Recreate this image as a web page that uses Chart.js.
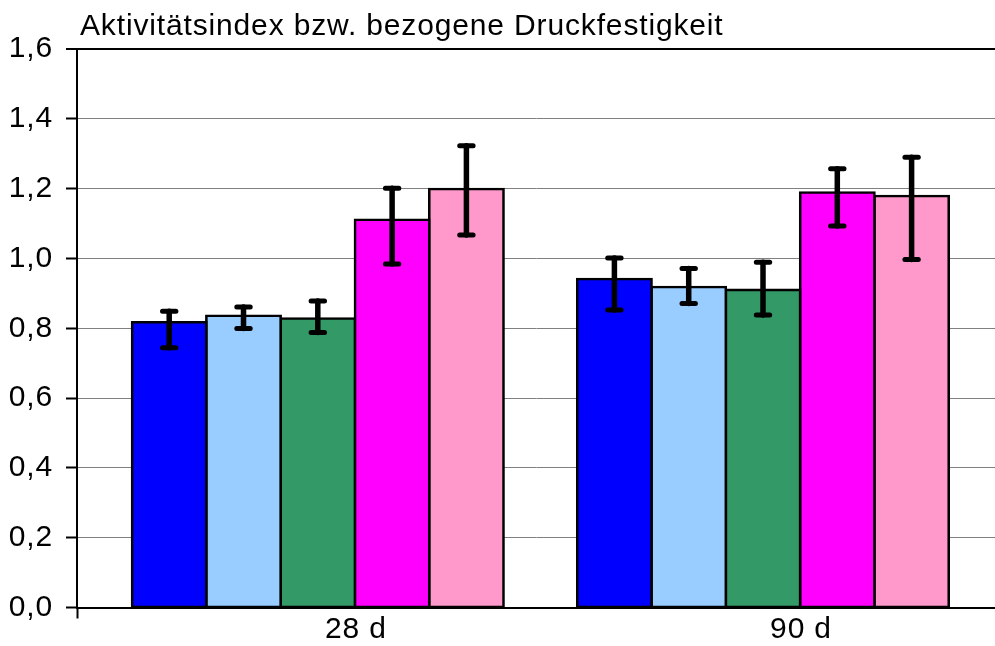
<!DOCTYPE html>
<html>
<head>
<meta charset="utf-8">
<script src="https://cdn.jsdelivr.net/npm/chart.js@4/dist/chart.umd.min.js"></script>
<style>
  html, body { margin: 0; padding: 0; background: #fff; overflow: hidden; }
  #wrap { width: 995px; height: 646px; position: relative; }
</style>
</head>
<body>
<div id="wrap"><canvas id="c" width="995" height="646"></canvas></div>
<script>
// ---- Data ----
const categories = ['28 d', '90 d'];
const yTickValues = [0, 0.2, 0.4, 0.6, 0.8, 1.0, 1.2, 1.4, 1.6];
const titleText = 'Aktivitätsindex bzw. bezogene Druckfestigkeit';

const series1 = [0.817, 0.941];
const series1High = [0.849, 1.001];
const series1Low = [0.744, 0.852];

const series2 = [0.836, 0.918];
const series2High = [0.861, 0.971];
const series2Low = [0.799, 0.871];

const series3 = [0.828, 0.910];
const series3High = [0.878, 0.989];
const series3Low = [0.788, 0.838];

const series4 = [1.111, 1.189];
const series4High = [1.201, 1.257];
const series4Low = [0.984, 1.093];

const series5 = [1.199, 1.179];
const series5High = [1.323, 1.290];
const series5Low = [1.067, 0.997];

// ---- Styles ----
const seriesColors = ['#0000FF', '#99CCFF', '#339966', '#FF00FF', '#FF99CC'];
const FONT = "'Liberation Sans', Arial, sans-serif";
const FONT_SIZE = 30;
const LETTER_SPACING = '0.85px';

const allSeries = [
  { v: series1, hi: series1High, lo: series1Low },
  { v: series2, hi: series2High, lo: series2Low },
  { v: series3, hi: series3High, lo: series3Low },
  { v: series4, hi: series4High, lo: series4Low },
  { v: series5, hi: series5High, lo: series5Low }
];

const datasets = allSeries.map((s, i) => ({
  label: 'Serie ' + (i + 1),
  data: s.v.map((val, k) => ({ x: k, y: val, hi: s.hi[k], lo: s.lo[k] })),
  backgroundColor: seriesColors[i],
  borderColor: '#000',
  borderWidth: 2.6,
  borderSkipped: false,
  inflateAmount: 1.3,
  barThickness: 74.3
}));

const spacing = {
  id: 'spacing',
  beforeDraw(chart) { chart.ctx.letterSpacing = LETTER_SPACING; }
};

const errorBars = {
  id: 'errorBars',
  afterDatasetsDraw(chart) {
    const ctx = chart.ctx;
    const y = chart.scales.y;
    ctx.save();
    ctx.strokeStyle = '#000';
    ctx.lineCap = 'round';
    chart.data.datasets.forEach((ds, di) => {
      const meta = chart.getDatasetMeta(di);
      meta.data.forEach((bar, k) => {
        const p = ds.data[k];
        const yh = y.getPixelForValue(p.hi);
        const yl = y.getPixelForValue(p.lo);
        ctx.lineWidth = 5.5;
        ctx.beginPath();
        ctx.moveTo(bar.x, yh); ctx.lineTo(bar.x, yl);
        ctx.stroke();
        ctx.lineWidth = 5;
        ctx.beginPath();
        ctx.moveTo(bar.x - 6.7, yh); ctx.lineTo(bar.x + 6.7, yh);
        ctx.moveTo(bar.x - 6.7, yl); ctx.lineTo(bar.x + 6.7, yl);
        ctx.stroke();
      });
    });
    ctx.restore();
  }
};

const titlePlugin = {
  id: 'titleText',
  afterDraw(chart) {
    const ctx = chart.ctx;
    ctx.save();
    ctx.letterSpacing = LETTER_SPACING;
    ctx.font = FONT_SIZE + 'px ' + FONT;
    ctx.fillStyle = '#000';
    ctx.textAlign = 'left';
    ctx.textBaseline = 'alphabetic';
    ctx.fillText(titleText, chart.chartArea.left + 3, 35);
    ctx.restore();
  }
};

Chart.defaults.font.family = FONT;
Chart.defaults.font.size = FONT_SIZE;
Chart.defaults.color = '#000';

new Chart(document.getElementById('c'), {
  type: 'bar',
  data: { datasets },
  plugins: [spacing, errorBars, titlePlugin],
  options: {
    responsive: false,
    animation: false,
    devicePixelRatio: 1,
    layout: { padding: { top: 49, left: 0, right: 0, bottom: 0 } },
    plugins: { legend: { display: false }, title: { display: false }, tooltip: { enabled: false } },
    scales: {
      x: {
        type: 'linear',
        offset: false,
        min: -0.5409,
        max: 1.5211,
        afterBuildTicks(scale) {
          scale.ticks = [{ value: scale.min }].concat(categories.map((c, i) => ({ value: i })));
        },
        afterFit(scale) { scale.height = 646 - 607.5; },
        ticks: {
          autoSkip: false,
          maxRotation: 0,
          padding: -7,
          labelOffset: 38,
          callback: (v, i) => (i === 0 ? '' : categories[i - 1])
        },
        grid: {
          offset: false,
          drawOnChartArea: false,
          drawTicks: true,
          tickLength: 11,
          tickWidth: 2,
          tickColor: (c) => (c.index === 0 ? '#000' : 'rgba(0,0,0,0)')
        },
        border: { display: true, color: '#000', width: 2 }
      },
      y: {
        min: 0,
        max: 1.6,
        afterBuildTicks(scale) {
          scale.ticks = yTickValues.map(v => ({ value: v }));
        },
        afterFit(scale) { scale.width = 77; },
        ticks: {
          padding: 13,
          callback: (v) => Number(v).toFixed(1).replace('.', ',')
        },
        grid: {
          color: (c) => (c.tick && Math.abs(c.tick.value - 1.6) < 1e-9 ? '#000' : '#808080'),
          lineWidth: (c) => (c.tick && Math.abs(c.tick.value - 1.6) < 1e-9 ? 2 : 1),
          tickColor: '#000',
          tickLength: 11,
          tickWidth: 2
        },
        border: { display: true, color: '#000', width: 2 }
      }
    }
  }
});
</script>
</body>
</html>
